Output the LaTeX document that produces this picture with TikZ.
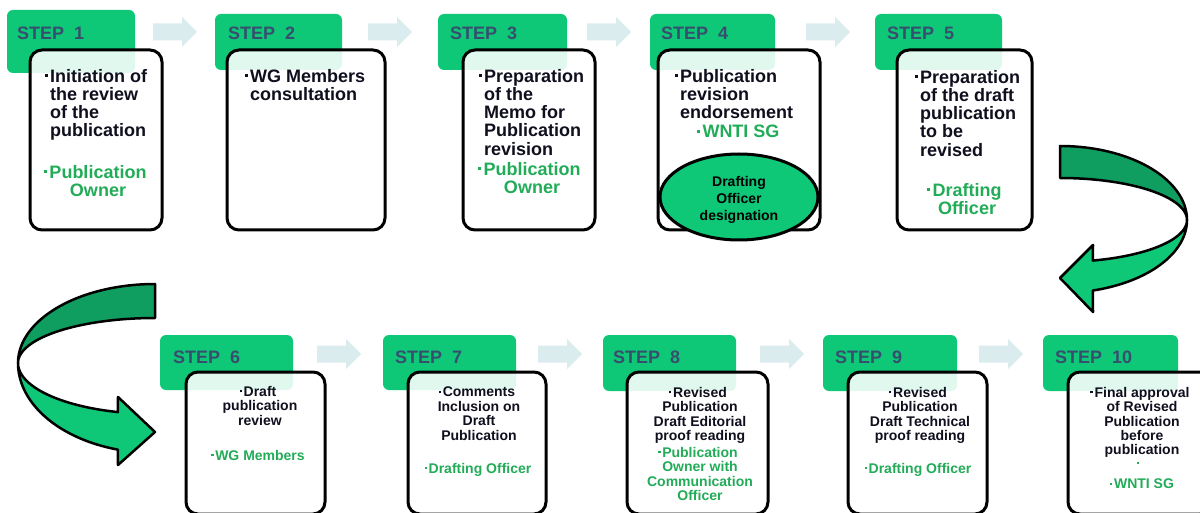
\documentclass[tikz,border=0pt]{standalone}
\usepackage{fontspec}
\setmainfont{Liberation Sans}
\usetikzlibrary{shapes.geometric}
\definecolor{hgreen}{RGB}{14,200,120}
\definecolor{dgreen}{RGB}{16,158,96}
\definecolor{tgreen}{RGB}{34,172,88}
\definecolor{steptxt}{RGB}{55,78,110}
\definecolor{arrowc}{RGB}{218,236,238}
\definecolor{dtxt}{RGB}{15,15,30}
\newcommand\mybul{\raisebox{0.28em}{\rule{0.17em}{0.17em}}\hspace{0.12em}}
\tikzset{
 hdr/.style={rectangle, fill=hgreen, rounded corners=6pt, inner sep=0pt, outer sep=0pt},
 stepbox/.style={rectangle, draw=black, line width=3pt, rounded corners=12pt, fill=white, fill opacity=0.88, inner sep=0pt, outer sep=0pt},
 steplbl/.style={text=steptxt, font=\fontsize{18}{18}\selectfont\bfseries, anchor=base west, inner sep=0pt},
 bigt/.style={text=dtxt, font=\fontsize{18}{18.2}\selectfont\bfseries, inner sep=0pt, align=left, anchor=north west},
 bigg/.style={text=tgreen, font=\fontsize{18}{18}\selectfont\bfseries, inner sep=0pt, align=center, anchor=north},
 smt/.style={text=dtxt, font=\fontsize{14}{14.4}\selectfont\bfseries, inner sep=0pt, align=center, anchor=north},
 smg/.style={smt, text=tgreen},
 blkarrow/.pic={\fill[arrowc] (0,-8.5) -- (29,-8.5) -- (29,-15) -- (44,0) -- (29,15) -- (29,8.5) -- (0,8.5) -- cycle;},
 curve/.style={draw=black, line width=2.5pt, line join=round},
}
\begin{document}
\begin{tikzpicture}[x=1pt,y=-1pt]
\useasboundingbox (0,0) rectangle (1200,513);
% headers
\node[hdr, minimum width=128pt, minimum height=63pt] (h1) at (71,41.5) {};
\node[hdr, minimum width=127pt, minimum height=56pt] (h2) at (278.5,42) {};
\node[hdr, minimum width=129pt, minimum height=56pt] (h3) at (502.5,42) {};
\node[hdr, minimum width=125pt, minimum height=56pt] (h4) at (712.5,42) {};
\node[hdr, minimum width=127pt, minimum height=56pt] (h5) at (938.5,42) {};
\node[hdr, minimum width=133pt, minimum height=55pt] (h6) at (226.5,362.5) {};
\node[hdr, minimum width=133pt, minimum height=55pt] (h7) at (449.5,362.5) {};
\node[hdr, minimum width=133pt, minimum height=56pt] (h8) at (669.5,363) {};
\node[hdr, minimum width=134pt, minimum height=56pt] (h9) at (890,363) {};
\node[hdr, minimum width=135pt, minimum height=56pt] (h10) at (1110.5,363) {};
% step labels
\node[steplbl] (s1) at (17,40) {STEP~~1};
\node[steplbl] (s2) at (228,40) {STEP~~2};
\node[steplbl] (s3) at (450,40) {STEP~~3};
\node[steplbl] (s4) at (661,40) {STEP~~4};
\node[steplbl] (s5) at (887,40) {STEP~~5};
\node[steplbl] (s6) at (173,363) {STEP~~6};
\node[steplbl] (s7) at (395,363) {STEP~~7};
\node[steplbl] (s8) at (613,363) {STEP~~8};
\node[steplbl] (s9) at (835,363) {STEP~~9};
\node[steplbl] (s10) at (1055,363) {STEP~~10};
% boxes
\node[stepbox, minimum width=132pt, minimum height=180pt] (b1) at (96,140) {};
\node[stepbox, minimum width=158pt, minimum height=180pt] (b2) at (306,140) {};
\node[stepbox, minimum width=132pt, minimum height=180pt] (b3) at (529,140) {};
\node[stepbox, minimum width=162pt, minimum height=180pt] (b4) at (739,140) {};
\node[stepbox, minimum width=135pt, minimum height=180pt] (b5) at (964.5,140) {};
\node[stepbox, minimum width=139pt, minimum height=142pt] (b6) at (255.5,443) {};
\node[stepbox, minimum width=138pt, minimum height=142pt] (b7) at (477,443) {};
\node[stepbox, minimum width=141pt, minimum height=142pt] (b8) at (697.5,443) {};
\node[stepbox, minimum width=139pt, minimum height=142pt] (b9) at (917.5,443) {};
\node[stepbox, minimum width=144pt, minimum height=142pt] (b10) at (1140,443) {};
% ellipse in step 4
\node[ellipse, draw=black, line width=3pt, fill=hgreen, minimum width=158pt, minimum height=86pt, inner sep=0pt] (e4) at (739,197) {};
% block arrows
\pic (a1) at (153,32) {blkarrow};
\pic (a2) at (368,32) {blkarrow};
\pic (a3) at (587,32) {blkarrow};
\pic (a4) at (806,32) {blkarrow};
\pic (a6) at (317,354) {blkarrow};
\pic (a7) at (538,354) {blkarrow};
\pic (a8) at (760,354) {blkarrow};
\pic (a9) at (979,354) {blkarrow};
% texts top row
\node[bigt] (t1) at (50,69) {\llap{\mybul}Initiation of\\the review\\of the\\publication};
\node[bigg] (g1) at (98,165) {\llap{\mybul}Publication\\Owner};
\node[bigt] (t2) at (250,69) {\llap{\mybul}WG Members\\consultation};
\node[bigt] (t3) at (484,69) {\llap{\mybul}Preparation\\of the\\Memo for\\Publication\\revision};
\node[bigg] (g3) at (532,162) {\llap{\mybul}Publication\\Owner};
\node[bigt] (t4) at (680,69) {\llap{\mybul}Publication\\revision\\endorsement};
\node[bigg] (g4) at (741,125) {\llap{\mybul}WNTI SG};
\node[text=black, font=\fontsize{14}{17}\selectfont\bfseries, inner sep=0pt, align=center] (e4t) at (739,200) {Drafting\\Officer\\designation};
\node[bigt] (t5) at (920,70) {\llap{\mybul}Preparation\\of the draft\\publication\\to be\\revised};
\node[bigg] (g5) at (967,183) {\llap{\mybul}Drafting\\Officer};
% texts bottom row
\node[smt] (t6) at (260,386) {\llap{\mybul}Draft\\publication\\review};
\node[smg] (g6) at (260,450) {\llap{\mybul}WG Members};
\node[smt] (t7) at (479,387) {\llap{\mybul}Comments\\Inclusion on\\Draft\\Publication};
\node[smg] (g7) at (480,463) {\llap{\mybul}Drafting Officer};
\node[smt] (t8) at (700,387) {\llap{\mybul}Revised\\Publication\\Draft Editorial\\proof reading};
\node[smg] (g8) at (700,447) {\llap{\mybul}Publication\\Owner with\\Communication\\Officer};
\node[smt] (t9) at (920,387) {\llap{\mybul}Revised\\Publication\\Draft Technical\\proof reading};
\node[smg] (g9) at (920,463) {\llap{\mybul}Drafting Officer};
\node[smt] (t10) at (1142,387) {\llap{\mybul}Final approval\\of Revised\\Publication\\before\\publication};
\node[smg, anchor=center] (g10a) at (1139,465) {\mybul};
\node[smg] (g10) at (1144,479) {\llap{\mybul}WNTI SG};
% right curved arrow
\draw[curve, fill=dgreen] plot[domain=-90:0, samples=40] ({1060+127*cos(\x)},{220+74*sin(\x)})
  -- plot[domain=0:-90, samples=40] ({1060+127*cos(\x)},{220+42*sin(\x)}) -- cycle;
\draw[curve, fill=hgreen] plot[domain=0:75, samples=40] ({1060+127*cos(\x)},{220+73*sin(\x)})
  -- (1093,312) -- (1060,278) -- (1093,245)
  -- plot[domain=75:0, samples=40] ({1060+127*cos(\x)},{220+42*sin(\x)}) -- cycle;
% left curved arrow
\draw[curve, fill=dgreen] plot[domain=-90:0, samples=40] ({155-137*cos(\x)},{363+79*sin(\x)})
  -- plot[domain=0:-90, samples=40] ({155-137*cos(\x)},{363+45*sin(\x)}) -- cycle;
\draw[curve, fill=hgreen] plot[domain=0:74.3, samples=40] ({155-137*cos(\x)},{363+90*sin(\x)})
  -- (118,465) -- (155,432) -- (118,397)
  -- plot[domain=74.3:0, samples=40] ({155-137*cos(\x)},{363+51*sin(\x)}) -- cycle;
\end{tikzpicture}
\end{document}
